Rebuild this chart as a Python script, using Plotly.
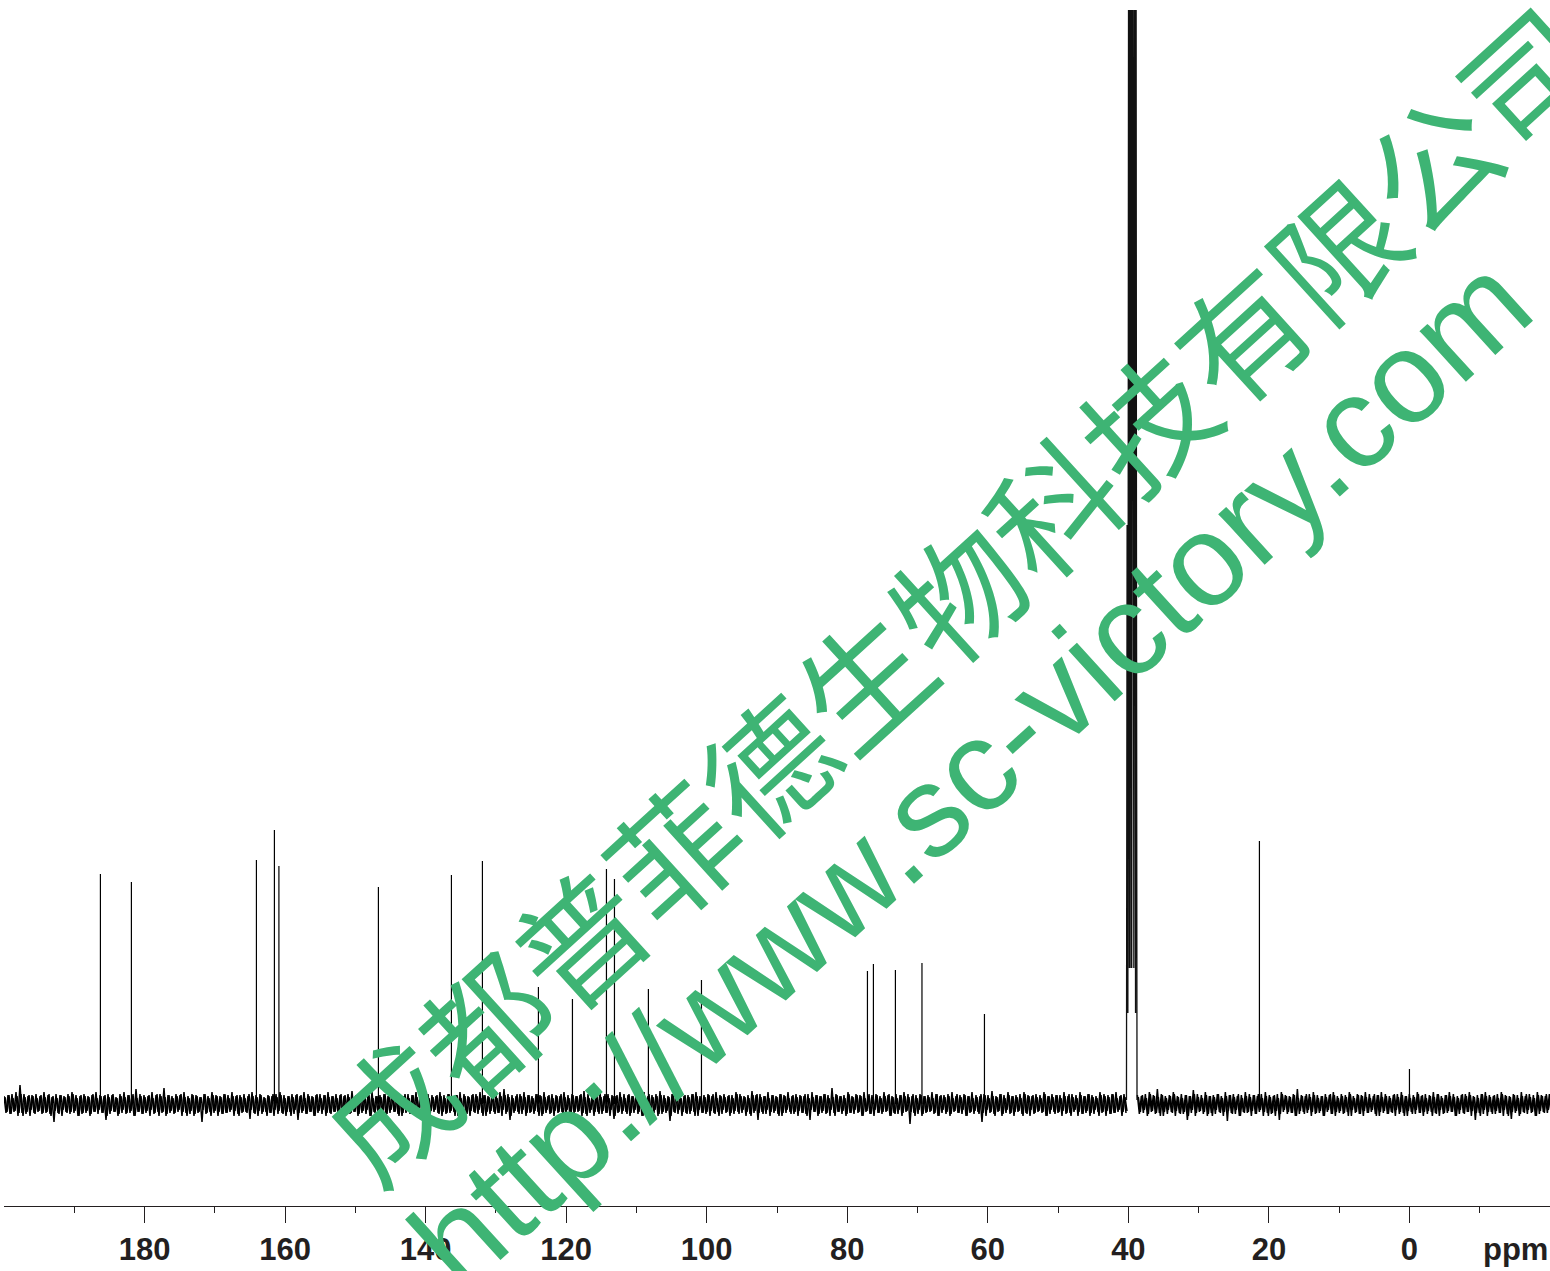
import plotly.graph_objects as go

# --- axis ---
tick_major = [180, 160, 140, 120, 100, 80, 60, 40, 20, 0, -20]
tick_labels = ["180", "160", "140", "120", "100", "80", "60", "40", "20", "0", ""]
tick_minor = [190, 170, 150, 130, 110, 90, 70, 50, 30, 10, -10]

# --- resolved peaks ---
peak_ppm = [186.28, 181.87, 164.08, 161.52, 160.88, 146.72, 136.33, 131.92, 123.95, 119.11,
            114.27, 113.13, 108.30, 100.75, 77.13, 76.28, 73.15, 69.37, 60.48, 21.35, 0.0]
peak_int = [230, 222, 244, 274, 238, 217, 229, 243, 117, 105,
            235, 225, 115, 124, 133, 140, 134, 141, 90, 263, 35]

# --- DMSO multiplet outline (off-scale lines run past the top) ---
dmso_ppm = [40.27, 40.18, 40.07, 39.95, 39.86, 39.78, 39.64, 39.58, 39.52, 39.38, 39.22, 39.12, 38.98, 38.92, 38.85, 38.77]
dmso_int = [4, 579, 91, 1400, 136, 1400, 136, 1400, 136, 1400, 136, 1400, 91, 1400, 579, 4]

# --- baseline noise, read every few pixels: upper and lower excursions ---
noise_top_a = [
 8,9,10,12,19,10,8,9,10,8,12,9,7,10,9,8,10,12,9,8,
 10,8,9,12,9,8,10,9,7,10,12,9,8,15,10,9,8,12,9,10,
 16,9,8,10,9,12,8,10,9,7,10,8,12,9,8,10,9,12,8,9,
 10,8,12,9,10,7,9,8,10,12,9,8,10,9,8,12,10,8,9,10,
 9,12,8,10,9,8,10,13,9,8,10,9,12,8,9,10,8,12,9,10,
 8,10,9,12,9,8,10,9,8,12,9,10,8,9,12,10,8,9,10,12,
 9,8,10,9,12,15,10,9,8,10,12,9,8,10,9,12,8,10,9,8,
 12,9,10,8,9,13,10,8,9,12,8,10,9,8,12,10,9,8,10,9,
 12,8,9,10,13,9,8,10,12,9,8,9,10,12,8,9,10,8,12,9,
 10,8,9,12,10,8,9,13,9,10,8,12,9,8,10,9,12,8,10,9,
 8,10,12,9,8,10,9,16,10,8,9,12,8,10,9,12,8,9,10,8,
 12,9,8,10,9,12,10,8,9,10,8,9,12,10,8,9,10,12,8,9,
 10,8,12,9,8,10,9,13,8,10,9,12,8,9,10,12,9,8,10,9,
 12,8,10,9,9,12,8,10,9,12,8,10,9,8,12,10,9,10,12,8,
 10]
noise_bot_a = [
 9,10,8,12,9,10,12,9,8,10,9,10,18,9,12,8,10,9,12,10,
 9,12,8,10,9,16,10,8,12,9,10,9,12,8,10,9,12,10,8,9,
 12,9,10,8,12,9,10,12,9,18,10,8,9,12,10,9,8,12,10,9,
 8,15,9,12,10,8,9,12,10,9,12,8,10,16,9,10,8,12,9,10,
 12,9,8,10,12,9,10,8,12,9,10,12,8,9,10,12,9,8,10,12,
 9,10,8,12,9,10,12,8,9,12,10,9,8,12,10,9,12,8,10,9,
 12,10,8,9,12,10,16,9,8,10,12,9,10,8,12,9,10,12,9,8,
 10,12,9,8,12,10,9,12,8,10,9,12,15,9,10,8,12,9,10,12,
 8,10,9,12,10,9,17,8,10,12,9,10,8,12,9,10,12,9,8,10,
 9,12,10,8,9,12,10,9,16,8,10,12,9,10,12,9,8,10,12,9,
 10,16,8,12,9,10,12,9,8,10,12,9,10,9,12,8,10,12,9,10,
 8,12,9,10,12,8,20,9,10,12,9,8,10,12,9,10,12,8,9,10,
 12,9,10,8,18,12,9,10,8,12,9,10,12,8,10,9,12,10,8,9,
 12,10,8,9,12,10,9,8,12,10,9,12,10,8,9,12,10,9,8,12,
 9]
noise_top_b = [
 9,8,10,12,9,15,10,8,9,12,8,10,9,8,14,10,9,12,8,9,
 10,8,12,9,10,8,9,12,10,9,8,10,12,9,8,10,12,9,8,10,
 15,9,8,10,12,9,8,10,9,12,8,10,9,12,8,10,9,12,10,8,
 9,12,10,8,9,10,12,8,10,9,12,8,10,9,12,10,8,9,12,10,
 8,9,10,12,8,9,10,12,9,8,10,12,9,8,10,9,12,8,10,9,
 12,9,8,10]
noise_bot_b = [
 10,9,12,8,10,9,12,10,8,12,9,10,16,9,12,8,10,12,9,10,
 8,12,17,9,10,12,8,9,12,10,8,12,9,10,12,16,8,10,9,12,
 10,8,9,12,10,9,12,8,10,12,9,10,8,12,9,10,12,9,8,10,
 12,9,10,8,12,10,9,12,8,10,9,12,10,8,9,12,10,9,8,12,
 10,9,8,12,16,9,10,12,8,10,9,12,10,15,9,12,8,10,9,12,
 10,8,9,12]

# second, in-between set of readings of the dense band
fine_top_a = [
 7,9,6,8,10,7,9,8,6,9,7,10,8,6,9,7,8,10,6,9,
 8,7,10,6,8,9,7,10,6,8,7,9,10,6,8,7,9,6,10,8,
 7,9,6,8,10,7,6,9,8,7,10,6,9,8,7,10,6,8,9,7,
 6,10,8,7,9,6,8,10,7,9,6,8,7,10,9,6,8,7,10,6,
 9,7,8,6,10,9,7,6,8,10,7,9,6,8,7,10,9,6,7,8,
 10,6,9,7,8,10,6,7,9,8,6,10,7,9,6,8,7,10,8,6,
 9,7,10,6,8,9,7,6,10,8,7,9,6,10,8,7,9,6,8,10,
 7,6,9,8,10,7,6,9,8,7,10,6,8,9,7,6,10,8,7,9,
 6,10,7,8,9,6,7,10,8,6,9,7,10,8,6,7,9,10,6,8,
 7,9,6,10,8,7,6,9,10,7,8,6,9,7,10,8,6,9,7,8,
 10,6,7,9,8,10,6,7,9,8,6,10,7,9,8,6,10,7,9,6,
 8,10,7,6,9,8,7,10,6,9,8,7,6,10,9,7,8,6,10,7,
 9,8,6,7,10,9,6,8,7,10,6,9,8,7,6,10,8,9,7,6,
 10,8,7,9,6,8,10,7,6,9,8,10,7,6,9,8,7,10,6,9,
 7]
fine_bot_a = [
 8,10,7,9,12,8,6,10,7,9,8,12,7,10,6,9,8,7,12,9,
 7,10,8,6,9,12,7,8,10,6,9,7,12,8,10,7,6,9,12,8,
 10,7,9,6,8,12,7,10,8,6,9,12,7,8,10,9,6,7,12,8,
 9,6,10,7,8,12,9,6,7,10,8,12,6,9,7,10,8,12,7,6,
 9,10,8,7,12,6,9,8,10,7,6,12,9,8,7,10,6,8,12,9,
 7,10,6,8,9,12,7,6,10,8,9,7,12,6,8,10,7,9,6,12,
 8,7,10,9,6,8,12,7,10,6,9,8,7,12,10,6,9,7,8,12,
 6,10,8,7,9,12,6,8,10,7,9,6,12,8,7,10,9,6,8,12,
 7,9,6,10,8,7,12,9,6,8,10,7,12,6,9,8,7,10,12,6,
 8,9,7,10,6,8,12,7,9,10,6,8,7,12,9,6,10,8,7,9,
 12,6,8,10,7,9,6,12,8,7,10,9,6,8,12,7,10,6,9,8,
 7,12,10,6,9,7,8,12,6,10,8,7,9,12,6,8,10,7,9,6,
 12,8,7,10,9,6,8,12,7,10,6,9,8,7,12,10,6,9,7,8,
 12,6,10,8,7,9,12,6,8,10,7,9,6,12,8,7,10,9,6,8,
 7]
fine_top_b = [
 7,9,6,10,8,7,9,6,8,10,7,6,9,8,10,7,6,9,8,7,
 10,6,8,9,7,10,6,8,7,9,10,6,8,7,9,6,10,8,7,9,
 6,8,10,7,9,6,8,7,10,9,6,8,7,10,6,9,8,7,6,10,
 9,7,8,6,10,7,9,8,6,7,10,9,6,8,7,10,6,9,8,7,
 6,10,8,9,7,6,10,8,7,9,6,10,8,7,9,6,8,10,7,6,
 9,8,10,7]
fine_bot_b = [
 8,6,10,7,9,12,8,6,9,7,10,8,12,6,9,7,8,10,12,6,
 9,8,7,10,6,12,9,8,7,10,6,8,12,9,7,10,6,8,9,12,
 7,10,6,8,9,7,12,6,10,8,7,9,12,6,8,10,7,9,6,12,
 8,7,10,9,6,8,12,7,10,6,9,8,7,12,10,6,9,7,8,12,
 6,10,8,7,9,12,6,8,10,7,9,6,12,8,7,10,9,6,8,12,
 7,9,6,10]

AXIS_LEFT, AXIS_RIGHT = 200.0, -20.0
PX_PPM = 1546 / 220.0


def noise_trace(top, bot, start_ppm):
    xs, ys = [], []
    p = start_ppm
    for t, b in zip(top, bot):
        xs += [p, p - 2 / PX_PPM]
        ys += [t, -b]
        p -= 4 / PX_PPM
    return xs, ys


ink = "#000000"
fig = go.Figure()
for top, bot, start in [
    (noise_top_a, noise_bot_a, 200.0),
    (noise_top_b, noise_bot_b, 38.72),
    (fine_top_a, fine_bot_a, 200.0 - 1 / PX_PPM),
    (fine_top_b, fine_bot_b, 38.72 - 1 / PX_PPM),
]:
    nx, ny = noise_trace(top, bot, start)
    fig.add_trace(go.Scatter(x=nx, y=ny, mode="lines", line=dict(color=ink, width=1.5), hoverinfo="skip"))

px, py = [], []
for p, h in zip(peak_ppm, peak_int):
    px += [p, p, None]
    py += [0, h, None]
fig.add_trace(go.Scatter(x=px, y=py, mode="lines", line=dict(color=ink, width=1.2), hoverinfo="skip"))
fig.add_trace(go.Scatter(x=dmso_ppm, y=dmso_int, mode="lines", line=dict(color="#111111", width=1.3), hoverinfo="skip"))

txt = "#231f20"
green = "#3eb474"
fig.update_layout(
    width=1550, height=1271, showlegend=False,
    paper_bgcolor="white", plot_bgcolor="white",
    margin=dict(l=4, r=0, t=10, b=65),
    xaxis=dict(range=[AXIS_LEFT, AXIS_RIGHT], showgrid=False, zeroline=False,
               showline=True, linecolor=txt, linewidth=1,
               tickmode="array", tickvals=tick_major, ticktext=tick_labels,
               ticks="outside", ticklen=16, tickwidth=1, tickcolor=txt,
               ticklabelstandoff=0,
               tickfont=dict(family="Liberation Sans", size=31, color=txt, weight="bold"),
               minor=dict(tickmode="array", tickvals=tick_minor, ticks="outside",
                          ticklen=6, tickwidth=1, tickcolor=txt)),
    yaxis=dict(range=[-102, 1094], visible=False),
    annotations=[
        dict(text="<b>ppm</b>", xref="paper", yref="paper", x=1511 / 1546, y=(1206 - 1249) / 1196,
             showarrow=False, xanchor="center", yanchor="middle",
             font=dict(family="Liberation Sans", size=31, color=txt)),
        dict(text="成都普菲德生物科技有限公司", xref="paper", yref="paper",
             x=(955 - 4) / 1546, y=(1206 - 590) / 1196, showarrow=False, textangle=-42.3,
             xanchor="center", yanchor="middle",
             font=dict(family="Noto Sans CJK SC", size=128, color=green)),
        dict(text="http://www.sc-victory.com", xref="paper", yref="paper",
             x=(970 - 4) / 1546, y=(1206 - 772) / 1196, showarrow=False, textangle=-42.3,
             xanchor="center", yanchor="middle",
             font=dict(family="Liberation Sans", size=130, color=green)),
    ],
)
fig.write_html("out.html", post_script="document.body.style.margin='0';", config={"displayModeBar": False})
